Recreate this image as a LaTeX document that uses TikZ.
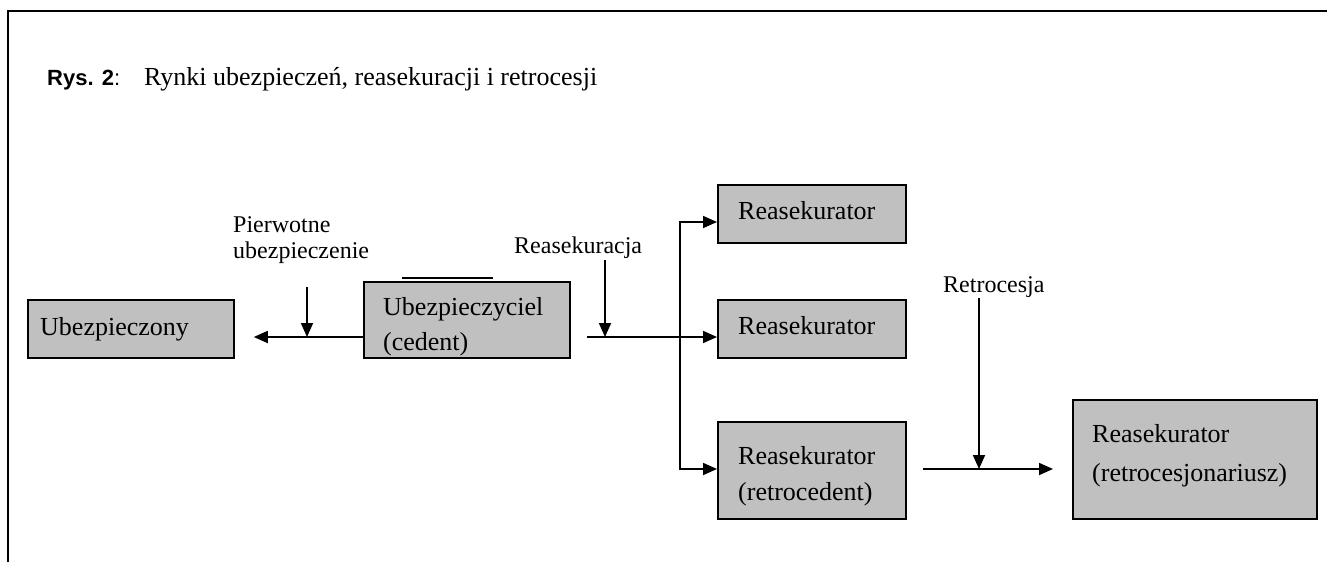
\documentclass[tikz,border=0pt]{standalone}
\usepackage{fontspec}
\setmainfont{Liberation Serif}
\newfontfamily\rysfont{Liberation Sans}
\usetikzlibrary{arrows.meta}
\definecolor{boxgray}{RGB}{192,192,192}
\begin{document}
\begin{tikzpicture}[x=1pt,y=-1pt,
  box/.style={draw=black, line width=1.8pt, fill=boxgray, inner sep=0pt, anchor=north west},
  boxtext/.style={font=\fontsize{26}{30}\selectfont, inner sep=0pt, anchor=base west},
  labeltext/.style={font=\fontsize{24}{28}\selectfont, inner sep=0pt, anchor=base west},
  conn/.style={line width=1.8pt, line join=miter},
  arr/.style={conn, -{Triangle[length=14pt,width=12pt]}},
]
\useasboundingbox (0,0) rectangle (1327,562);

% frame (top and left edges)
\draw[line width=2.2pt] (8,562) -- (8,11) -- (1327,11);

% title
\node[inner sep=0pt, anchor=base west] (title) at (47,85)
  {{\rysfont\fontsize{22}{26}\selectfont\bfseries Rys. 2}{\rysfont\fontsize{22}{26}\selectfont :}\hspace{24pt}{\fontsize{26}{30}\selectfont Rynki ubezpiecze\'n, reasekuracji i retrocesji}};

% boxes
\node[box, minimum width=206pt, minimum height=58pt] (ub) at (27,299) {};
\node[box, minimum width=206pt, minimum height=76pt] (ubc) at (363,281) {};
\node[box, minimum width=188pt, minimum height=58pt] (r1) at (717,184) {};
\node[box, minimum width=188pt, minimum height=58pt] (r2) at (717,299) {};
\node[box, minimum width=188pt, minimum height=97pt] (r3) at (717,421) {};
\node[box, minimum width=244pt, minimum height=119pt] (r4) at (1072,399) {};
\draw[line width=1.5pt] ([xshift=39pt,yshift=3pt]ubc.north west) -- ([xshift=130pt,yshift=3pt]ubc.north west);

% box texts
\node[boxtext] (tub) at (40,335) {Ubezpieczony};
\node[boxtext] (tubc1) at (383,315) {Ubezpieczyciel};
\node[boxtext] (tubc2) at (383,350) {(cedent)};
\node[boxtext] (tr1) at (738,219) {Reasekurator};
\node[boxtext] (tr2) at (738,334) {Reasekurator};
\node[boxtext] (tr3a) at (738,464) {Reasekurator};
\node[boxtext] (tr3b) at (738,500) {(retrocedent)};
\node[boxtext] (tr4a) at (1092,442) {Reasekurator};
\node[boxtext] (tr4b) at (1092,481) {(retrocesjonariusz)};

% flow labels
\node[labeltext] (lp1) at (233,232) {Pierwotne};
\node[labeltext] (lp2) at (233,258) {ubezpieczenie};
\node[labeltext] (lre) at (514,253) {Reasekuracja};
\node[labeltext] (lrt) at (943,292) {Retrocesja};

% connector levels
\coordinate (lvl) at (0,337);
\coordinate (pw) at (307,287);
\coordinate (rs) at (587,337);
\coordinate (rk) at (605,260);
\coordinate (bt) at (680,222);
\coordinate (bb) at (680,469);
\coordinate (rh) at (923,469);
\coordinate (rt) at (979,298);

% primary insurance
\draw[arr, shorten >=19pt] (ubc.west |- lvl) -- (ub.east |- lvl);
\draw[arr] (pw) -- (pw |- lvl);

% reinsurance
\draw[arr] (rs) -- (r2.west |- rs);
\draw[arr] (rk) -- (rk |- rs);
\draw[arr] (bb) -- (bt) -- (r1.west |- bt);
\draw[arr] (bt) -- (bb) -- (r3.west |- bb);

% retrocession
\draw[arr, shorten >=19pt] (rh) -- (r4.west |- rh);
\draw[arr] (rt) -- (rt |- rh);
\end{tikzpicture}
\end{document}
